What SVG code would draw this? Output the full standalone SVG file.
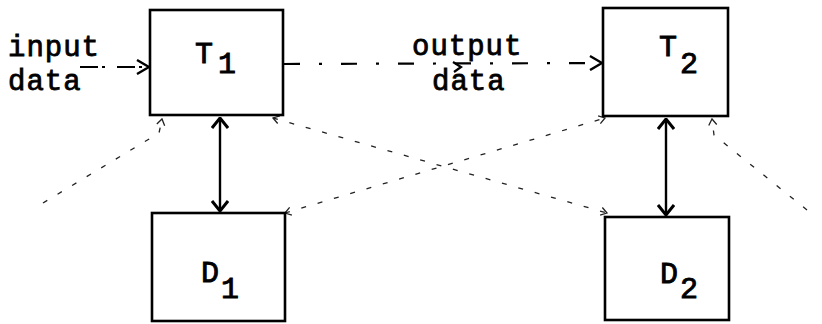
<svg xmlns="http://www.w3.org/2000/svg" width="822" height="324" viewBox="0 0 822 324">
  <style>
    .box { fill: #ffffff; stroke: #000000; stroke-width: 2.6; }
    .txt { font-family: "Liberation Mono", "DejaVu Sans Mono", monospace; font-size: 29px; letter-spacing: 1px; fill: #000000; stroke: #000000; stroke-width: 0.8; }
    .lbl { font-family: "Liberation Mono", "DejaVu Sans Mono", monospace; font-size: 30px; fill: #000000; stroke: #000000; stroke-width: 0.9; }
    .solid { fill: none; stroke: #000000; stroke-width: 2.4; }
    .dash { fill: none; stroke: #000000; stroke-width: 2.2; }
    .faint { fill: none; stroke: #222222; stroke-width: 1.3; stroke-dasharray: 5 12; }
  </style>
  <defs>
    <marker id="mSolid" viewBox="0 0 12 18" refX="11" refY="9" markerWidth="12" markerHeight="18" markerUnits="userSpaceOnUse" orient="auto-start-reverse">
      <path d="M1,1 L11,9 L1,17" fill="none" stroke="#000" stroke-width="3"/>
    </marker>
    <marker id="mDash" viewBox="0 0 14 16" refX="13" refY="8" markerWidth="14" markerHeight="16" markerUnits="userSpaceOnUse" orient="auto">
      <path d="M1,1 L13,8 L1,15" fill="none" stroke="#000" stroke-width="2.4"/>
    </marker>
    <marker id="mFaint" viewBox="0 0 8 10" refX="7" refY="5" markerWidth="8" markerHeight="10" markerUnits="userSpaceOnUse" orient="auto-start-reverse">
      <path d="M1,1 L7,5 L1,9" fill="none" stroke="#222" stroke-width="1.3"/>
    </marker>
  </defs>

  <g id="connectors">
    <!-- input data arrow -->
    <path class="dash" d="M80,67 L149,67" stroke-dasharray="18 4 3 12" marker-end="url(#mDash)"/>
    <!-- output data arrow -->
    <path class="dash" d="M284,64 L602,63" stroke-dasharray="16 19 3 19" marker-end="url(#mDash)"/>
    <path class="dash" d="M453,62 L461,67 L454,72"/>
    <!-- T1 <-> D1 -->
    <line class="solid" x1="220" y1="118" x2="220" y2="211" marker-start="url(#mSolid)" marker-end="url(#mSolid)"/>
    <!-- T2 <-> D2 -->
    <line class="solid" x1="666" y1="119" x2="666" y2="215" marker-start="url(#mSolid)" marker-end="url(#mSolid)"/>
    <!-- faint dashed access lines -->
    <path class="faint" d="M43,203 L159,133 L162,119" marker-end="url(#mFaint)"/>
    <path class="faint" d="M273,118 L607,213" marker-start="url(#mFaint)" marker-end="url(#mFaint)"/>
    <path class="faint" d="M285,213 L605,118" marker-start="url(#mFaint)" marker-end="url(#mFaint)"/>
    <path class="faint" d="M807,210 L714,135 L712,119" marker-end="url(#mFaint)"/>
  </g>

  <g id="T1">
    <rect class="box" x="150" y="10" width="133" height="105"/>
    <text class="lbl" x="195" y="63">T</text>
    <text class="lbl" x="218" y="73">1</text>
  </g>
  <g id="T2">
    <rect class="box" x="603" y="8" width="125" height="108"/>
    <text class="lbl" x="659" y="56">T</text>
    <text class="lbl" x="680" y="73">2</text>
  </g>
  <g id="D1">
    <rect class="box" x="152" y="213" width="133" height="108"/>
    <text class="lbl" x="201" y="282">D</text>
    <text class="lbl" x="221" y="298">1</text>
  </g>
  <g id="D2">
    <rect class="box" x="605" y="217" width="124" height="103"/>
    <text class="lbl" x="660" y="283">D</text>
    <text class="lbl" x="680" y="298">2</text>
  </g>

  <g id="labels">
    <text class="txt" x="8" y="56">input</text>
    <text class="txt" x="8" y="90">data</text>
    <text class="txt" x="412" y="55">output</text>
    <text class="txt" x="432" y="90">data</text>
  </g>
</svg>
